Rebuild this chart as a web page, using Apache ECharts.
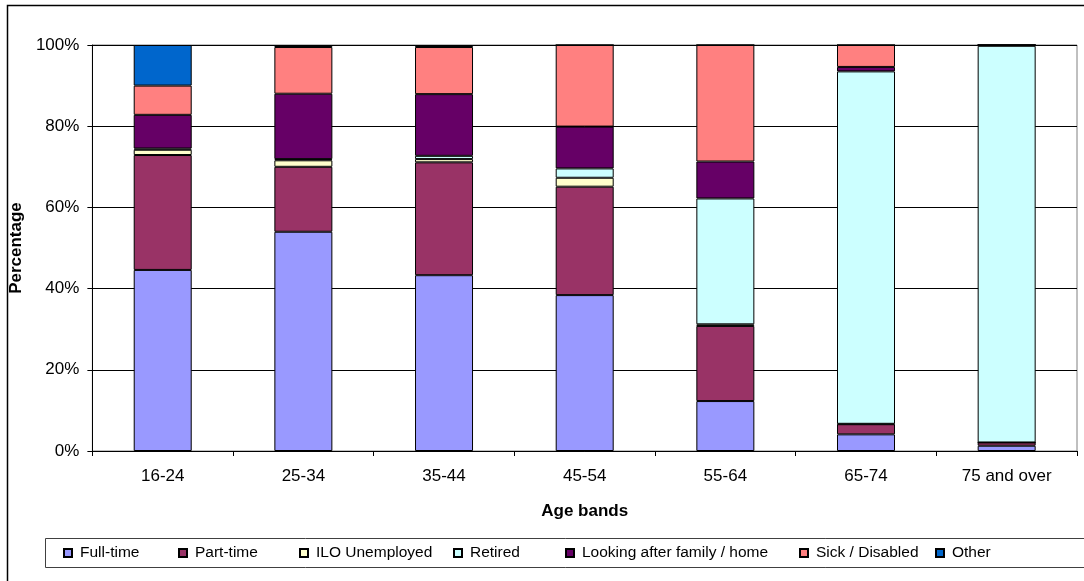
<!DOCTYPE html>
<html>
<head>
<meta charset="utf-8">
<script src="https://cdn.jsdelivr.net/npm/echarts@6/dist/echarts.min.js"></script>
<style>html,body{margin:0;padding:0;background:#fff}#c{width:1084px;height:581px}</style>
</head>
<body>
<div id="c"></div>
<script>
const categories = ['16-24','25-34','35-44','45-54','55-64','65-74','75 and over'];
const fullTime = [44.6, 54.0, 43.3, 38.4, 12.3, 4.1, 1.3];
const partTime = [28.3, 16.0, 27.8, 26.7, 18.5, 2.5, 0.8];
const iloUnemployed = [1.3, 1.6, 0.8, 2.2, 0.4, 0.1, 0.0];
const retired = [0.3, 0.3, 0.8, 2.3, 31.0, 86.8, 97.7];
const lookingAfter = [8.3, 16.1, 15.2, 10.3, 9.1, 1.1, 0.2];
const sickDisabled = [7.2, 11.5, 11.6, 20.1, 28.7, 5.4, 0.0];
const other = [10.0, 0.5, 0.5, 0.0, 0.0, 0.0, 0.0];
const seriesNames = ['Full-time','Part-time','ILO Unemployed','Retired','Looking after family / home','Sick / Disabled','Other'];
const seriesColors = ['#9999FF','#993366','#FFFFCC','#CCFFFF','#660066','#FF8080','#0066CC'];
const seriesData = [fullTime, partTime, iloUnemployed, retired, lookingAfter, sickDisabled, other];
const yTicks = [0, 20, 40, 60, 80, 100];
const legendLeft = [63, 178, 299, 453, 565, 799, 935];

const FONT = "'Liberation Sans', Arial, sans-serif";
const chart = echarts.init(document.getElementById('c'), null, {renderer: 'canvas'});

const legends = seriesNames.map((n, i) => ({
  data: [n], left: legendLeft[i], top: 545, padding: 0,
  itemWidth: 8, itemHeight: 8, icon: 'rect',
  textStyle: {fontFamily: FONT, fontSize: 15.5, color: '#000', padding: [0, 0, 0, 3]},
  selectedMode: false
}));

const option = {
  animation: false,
  backgroundColor: '#fff',
  grid: {left: 89, right: 7, top: 45, bottom: 130, show: true, borderColor: '#808080', borderWidth: 1},
  legend: legends,
  graphic: [
    {type: 'rect', shape: {x: 7.5, y: 5.5, width: 1100, height: 600}, style: {fill: null, stroke: '#000', lineWidth: 1.5}, silent: true, z: -1},
    {type: 'rect', shape: {x: 45.5, y: 538.5, width: 1100, height: 29}, style: {fill: null, stroke: '#404040', lineWidth: 1}, silent: true, z: -1}
  ],
  xAxis: {
    type: 'category', data: categories,
    name: 'Age bands', nameLocation: 'middle', nameGap: 52,
    nameTextStyle: {fontFamily: FONT, fontSize: 17, fontWeight: 'bold', color: '#000'},
    axisLine: {lineStyle: {color: '#000', width: 1}},
    axisTick: {show: true, alignWithLabel: false, length: 5, lineStyle: {color: '#000'}},
    axisLabel: {fontFamily: FONT, fontSize: 17, color: '#000', margin: 17}
  },
  yAxis: {
    type: 'value', min: 0, max: 100, interval: 20,
    name: 'Percentage', nameLocation: 'middle', nameGap: 60,
    nameTextStyle: {fontFamily: FONT, fontSize: 17, fontWeight: 'bold', color: '#000'},
    axisLine: {show: true, lineStyle: {color: '#000', width: 1}},
    axisTick: {show: true, length: 5, lineStyle: {color: '#000'}},
    axisLabel: {fontFamily: FONT, fontSize: 17, color: '#000', margin: 13,
      formatter: v => yTicks.includes(v) ? v + '%' : ''},
    splitLine: {show: true, lineStyle: {color: '#000', width: 1}}
  },
  series: seriesNames.map((n, i) => ({
    name: n, type: 'bar', stack: 'total', data: seriesData[i],
    barWidth: 58,
    itemStyle: {color: seriesColors[i], borderColor: '#000', borderWidth: 1}
  }))
};
chart.setOption(option);
</script>
</body>
</html>
